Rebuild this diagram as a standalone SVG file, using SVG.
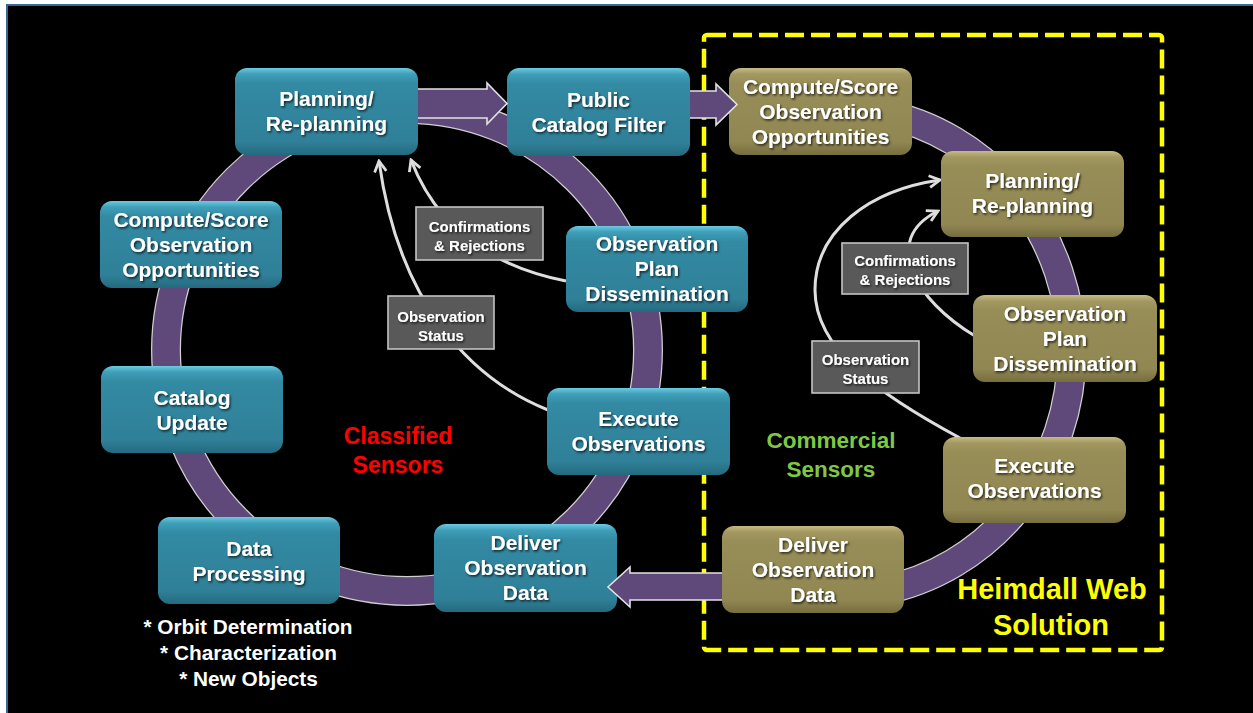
<svg xmlns="http://www.w3.org/2000/svg" width="1253" height="713" viewBox="0 0 1253 713">
  <defs>
    <linearGradient id="teal" x1="0" y1="0" x2="0" y2="1">
      <stop offset="0" stop-color="#6ccbe3"/>
      <stop offset="0.07" stop-color="#3f9fb9"/>
      <stop offset="0.18" stop-color="#338aa3"/>
      <stop offset="0.85" stop-color="#2f8098"/>
      <stop offset="1" stop-color="#246a7e"/>
    </linearGradient>
    <linearGradient id="gold" x1="0" y1="0" x2="0" y2="1">
      <stop offset="0" stop-color="#c6bb82"/>
      <stop offset="0.07" stop-color="#a39861"/>
      <stop offset="0.18" stop-color="#978d57"/>
      <stop offset="0.85" stop-color="#918753"/>
      <stop offset="1" stop-color="#766d3f"/>
    </linearGradient>
    <filter id="ts" x="-10%" y="-30%" width="120%" height="160%">
      <feDropShadow dx="1.2" dy="1.5" stdDeviation="0.9" flood-color="#000" flood-opacity="0.75"/>
    </filter>
    <marker id="ah" viewBox="0 0 14 14" refX="12" refY="7" markerWidth="15" markerHeight="15" markerUnits="userSpaceOnUse" orient="auto">
      <path d="M2,1.5 L12,7 L2,12.5" fill="none" stroke="#dedede" stroke-width="2.6" stroke-linejoin="miter"/>
    </marker>
    <style>
      .ringo { fill: none; stroke: #d0d0d0; stroke-width: 30; }
      .ringi { fill: none; stroke: #5f497a; stroke-width: 27.5; }
      .fb { fill: none; stroke: #dedede; stroke-width: 3; marker-end: url(#ah); }
      .tn { fill: url(#teal); }
      .gn { fill: url(#gold); }
      .lb { fill: #595959; stroke: #c4c4c4; stroke-width: 1.6; }
      .t { font-family: "Liberation Sans", Arial, sans-serif; font-weight: bold; font-size: 21px; fill: #ffffff; text-anchor: middle; filter: url(#ts); }
      .s { font-size: 15px; }
      .ba { fill: #5f497a; stroke: none; }
      .bo { fill: none; stroke: #e2e2e2; stroke-width: 1.6; stroke-linejoin: miter; }
      .cap { font-family: "Liberation Sans", Arial, sans-serif; font-weight: bold; text-anchor: middle; }
    </style>
  </defs>

  <rect width="1253" height="713" fill="#ffffff"/>
  <rect x="7" y="5" width="1250" height="712" fill="#000000" stroke="#3a6894" stroke-width="2"/>

  <rect x="704" y="35" width="458" height="615" rx="3" fill="none" stroke="#ffff00" stroke-width="4.5" stroke-dasharray="19 7"/>

  <g id="connectors">
    <circle class="ringo" cx="407" cy="350" r="241"/>
    <circle class="ringi" cx="407" cy="350" r="241"/>
    <path class="ringo" d="M 880 113 A 234 243 0 0 1 880 591"/>
    <path class="ringi" d="M 880 113 A 234 243 0 0 1 880 591"/>
    <path class="fb" d="M 566 281 C 500 268, 440 235, 411 160"/>
    <path class="fb" d="M 548 410 C 468 378, 398 300, 379 161"/>
    <path class="fb" d="M 975 336 C 915 300, 880 240, 938 211"/>
    <path class="fb" d="M 960 438 C 880 395, 815 350, 815 290 C 815 230, 870 190, 940 180"/>
  </g>

  <g id="n-plan-l"><rect class="tn" x="235" y="68" width="183" height="87" rx="12"/>
    <text class="t" x="326.5" y="106">Planning/</text><text class="t" x="326.5" y="131">Re-planning</text></g>
  <g id="n-pcf"><rect class="tn" x="507" y="68" width="183" height="88" rx="12"/>
    <text class="t" x="598.5" y="107">Public</text><text class="t" x="598.5" y="132">Catalog Filter</text></g>
  <g id="n-cs-l"><rect class="tn" x="100" y="201" width="182" height="87" rx="12"/>
    <text class="t" x="191" y="227">Compute/Score</text><text class="t" x="191" y="252">Observation</text><text class="t" x="191" y="277">Opportunities</text></g>
  <g id="n-opd-l"><rect class="tn" x="566" y="226" width="182" height="86" rx="12"/>
    <text class="t" x="657" y="251">Observation</text><text class="t" x="657" y="276">Plan</text><text class="t" x="657" y="301">Dissemination</text></g>
  <g id="n-cu"><rect class="tn" x="101" y="366" width="182" height="87" rx="12"/>
    <text class="t" x="192" y="405">Catalog</text><text class="t" x="192" y="430">Update</text></g>
  <g id="n-ex-l"><rect class="tn" x="547" y="388" width="183" height="87" rx="12"/>
    <text class="t" x="638.5" y="426">Execute</text><text class="t" x="638.5" y="451">Observations</text></g>
  <g id="n-dp"><rect class="tn" x="158" y="517" width="182" height="87" rx="12"/>
    <text class="t" x="249" y="556">Data</text><text class="t" x="249" y="581">Processing</text></g>
  <g id="n-dod-l"><rect class="tn" x="434" y="524" width="183" height="88" rx="12"/>
    <text class="t" x="525.5" y="550">Deliver</text><text class="t" x="525.5" y="575">Observation</text><text class="t" x="525.5" y="600">Data</text></g>

  <g id="n-cs-r"><rect class="gn" x="729" y="68" width="183" height="87" rx="12"/>
    <text class="t" x="820.5" y="94">Compute/Score</text><text class="t" x="820.5" y="119">Observation</text><text class="t" x="820.5" y="144">Opportunities</text></g>
  <g id="n-plan-r"><rect class="gn" x="941" y="151" width="183" height="86" rx="12"/>
    <text class="t" x="1032.5" y="188">Planning/</text><text class="t" x="1032.5" y="213">Re-planning</text></g>
  <g id="n-opd-r"><rect class="gn" x="973" y="295" width="184" height="87" rx="12"/>
    <text class="t" x="1065" y="321">Observation</text><text class="t" x="1065" y="346">Plan</text><text class="t" x="1065" y="371">Dissemination</text></g>
  <g id="n-ex-r"><rect class="gn" x="943" y="437" width="183" height="86" rx="12"/>
    <text class="t" x="1034.5" y="473">Execute</text><text class="t" x="1034.5" y="498">Observations</text></g>
  <g id="n-dod-r"><rect class="gn" x="722" y="526" width="182" height="87" rx="12"/>
    <text class="t" x="813" y="552">Deliver</text><text class="t" x="813" y="577">Observation</text><text class="t" x="813" y="602">Data</text></g>

  <g id="l-cr-l"><rect class="lb" x="416" y="207" width="127" height="53"/>
    <text class="t s" x="479.5" y="231.5">Confirmations</text><text class="t s" x="479.5" y="250.5">&amp; Rejections</text></g>
  <g id="l-os-l"><rect class="lb" x="388" y="296" width="106" height="53"/>
    <text class="t s" x="441" y="322">Observation</text><text class="t s" x="441" y="341">Status</text></g>
  <g id="l-cr-r"><rect class="lb" x="842" y="243" width="126" height="51"/>
    <text class="t s" x="905" y="266">Confirmations</text><text class="t s" x="905" y="285">&amp; Rejections</text></g>
  <g id="l-os-r"><rect class="lb" x="812" y="341" width="107" height="52"/>
    <text class="t s" x="865.5" y="365">Observation</text><text class="t s" x="865.5" y="384">Status</text></g>

  <g id="block-arrows">
    <polygon class="ba" points="418,89 487,89 487,83 507,103.5 487,124 487,118 418,118"/>
    <polyline class="bo" points="418,89 487,89 487,83 507,103.5 487,124 487,118 418,118"/>
    <polygon class="ba" points="690,91 716,91 716,84 737,104.5 716,125 716,118 690,118"/>
    <polyline class="bo" points="690,91 716,91 716,84 737,104.5 716,125 716,118 690,118"/>
    <polygon class="ba" points="722,573 630,573 630,567 608,587 630,607 630,600 722,600"/>
    <polyline class="bo" points="722,573 630,573 630,567 608,587 630,607 630,600 722,600"/>
  </g>

  <g id="captions">
    <text class="cap" x="398" y="444" font-size="23" fill="#ff0000">Classified</text>
    <text class="cap" x="398" y="473" font-size="23" fill="#ff0000">Sensors</text>
    <text class="cap" x="831" y="448" font-size="22.5" fill="#7fc843">Commercial</text>
    <text class="cap" x="831" y="477" font-size="22.5" fill="#7fc843">Sensors</text>
    <text class="cap" x="1052" y="599" font-size="29" fill="#ffff00">Heimdall Web</text>
    <text class="cap" x="1051" y="635" font-size="29" fill="#ffff00">Solution</text>
    <text class="cap" x="248" y="634" font-size="20.8" fill="#ffffff">* Orbit Determination</text>
    <text class="cap" x="248.5" y="660" font-size="20.8" fill="#ffffff">* Characterization</text>
    <text class="cap" x="248.5" y="686" font-size="20.8" fill="#ffffff">* New Objects</text>
  </g>
</svg>
